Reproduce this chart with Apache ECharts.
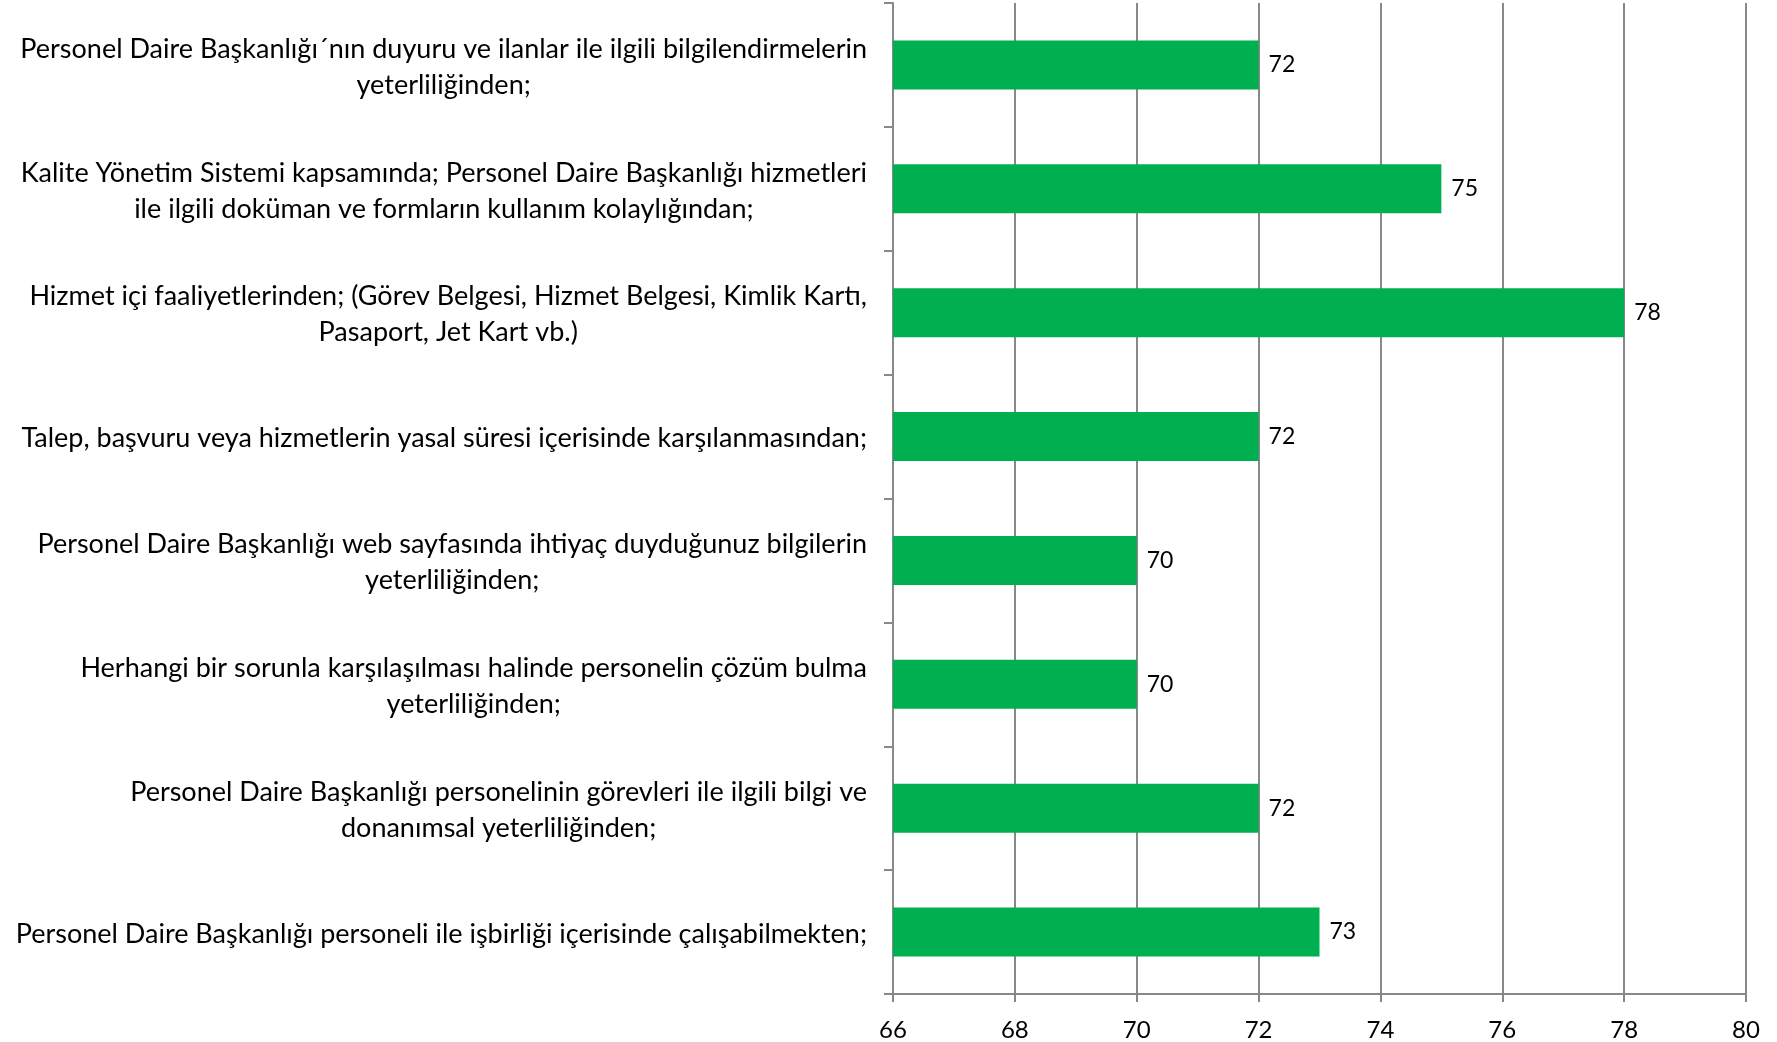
<!DOCTYPE html>
<html>
<head>
<meta charset="utf-8">
<script src="https://cdn.jsdelivr.net/npm/echarts@6/dist/echarts.min.js"></script>
<style>
  html, body { margin: 0; padding: 0; background: #fff; }
  #chart { width: 1777px; height: 1042px; }
</style>
</head>
<body>
<div id="chart"></div>
<script>
// questions, top to bottom
var questions = [
  'Personel Daire Başkanlığı´nın duyuru ve ilanlar ile ilgili bilgilendirmelerin\nyeterliliğinden;',
  'Kalite Yönetim Sistemi kapsamında; Personel Daire Başkanlığı hizmetleri\nile ilgili doküman ve formların kullanım kolaylığından;',
  'Hizmet içi faaliyetlerinden; (Görev Belgesi, Hizmet Belgesi, Kimlik Kartı,\nPasaport, Jet Kart vb.)',
  'Talep, başvuru veya hizmetlerin yasal süresi içerisinde karşılanmasından;',
  'Personel Daire Başkanlığı web sayfasında ihtiyaç duyduğunuz bilgilerin\nyeterliliğinden;',
  'Herhangi bir sorunla karşılaşılması halinde personelin çözüm bulma\nyeterliliğinden;',
  'Personel Daire Başkanlığı personelinin görevleri ile ilgili bilgi ve\ndonanımsal yeterliliğinden;',
  'Personel Daire Başkanlığı personeli ile işbirliği içerisinde çalışabilmekten;'
];
var scores = [72, 75, 78, 72, 70, 70, 72, 73];
var axisMin = 66, axisMax = 80, axisStep = 2;

var font = 'Lato';
var chart = echarts.init(document.getElementById('chart'));

var option = {
  animation: false,
  textStyle: { fontFamily: font },
  grid: { left: 893, right: 31, top: 3, bottom: 48 },
  xAxis: {
    type: 'value',
    min: axisMin,
    max: axisMax,
    interval: axisStep,
    axisLine: { show: true, lineStyle: { color: '#888', width: 2 } },
    axisTick: { show: true, length: 8, lineStyle: { color: '#888', width: 2 } },
    splitLine: { show: true, lineStyle: { color: '#888', width: 2 } },
    axisLabel: { color: '#000', fontSize: 24, fontFamily: font, margin: 24 }
  },
  yAxis: {
    type: 'category',
    inverse: true,
    data: questions,
    axisLine: { show: true, lineStyle: { color: '#888', width: 2 } },
    axisTick: { show: true, length: 9, lineStyle: { color: '#888', width: 2 } },
    axisLabel: {
      margin: 26,
      align: 'right',
      formatter: function (v) {
        return v.split('\n').map(function (s) { return '{c|' + s + '}'; }).join('\n');
      },
      rich: {
        c: { align: 'center', color: '#000', fontSize: 27, fontFamily: font, lineHeight: 36, padding: [4, 0, 0, 0] }
      }
    }
  },
  series: [{
    type: 'bar',
    data: scores,
    barWidth: 49,
    itemStyle: { color: '#00B050' },
    label: {
      show: true,
      position: 'right',
      distance: 10,
      color: '#000',
      fontSize: 23,
      fontFamily: font
    }
  }]
};
chart.setOption(option);
</script>
</body>
</html>
